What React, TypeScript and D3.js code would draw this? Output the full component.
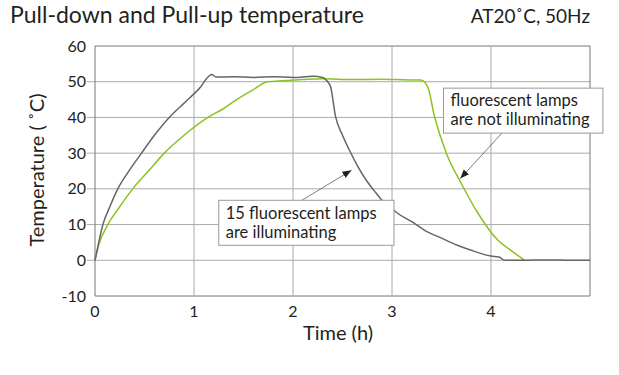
import React from "react";
import * as d3 from "d3";

// pull-down with 15 lamps on (gray)
const litTime = [0, 0.03, 0.08, 0.15, 0.23, 0.33, 0.47, 0.6, 0.75, 0.9, 1.05, 1.18, 1.22, 1.4, 1.6, 1.8, 2.0, 2.2, 2.3, 2.35, 2.38, 2.43, 2.5, 2.57, 2.65, 2.74, 2.82, 2.9, 3.0, 3.06, 3.2, 3.33, 3.5, 3.66, 3.8, 4.0, 4.08, 4.14, 4.3, 4.6, 4.8, 5.0];
const litTemp = [0, 4, 10, 15, 20, 24.5, 30, 35, 40, 44, 48, 52, 51.3, 51.4, 51.2, 51.4, 51.2, 51.5, 51.2, 50, 48.6, 40.2, 35, 30.8, 26.5, 22.4, 19.5, 16.8, 14.5, 13.1, 10.8, 8.4, 6.2, 4.2, 2.8, 1.2, 0.9, 0, 0, 0.1, 0, 0];

// lamps off (green)
const offTime = [0, 0.04, 0.13, 0.25, 0.38, 0.54, 0.7, 0.9, 1.14, 1.3, 1.42, 1.6, 1.74, 1.9, 2.1, 2.3, 2.6, 2.9, 3.2, 3.29, 3.36, 3.43, 3.55, 3.7, 3.87, 4.07, 4.2, 4.34];
const offTemp = [0, 4.5, 10, 15, 20, 25, 30, 35, 40, 42.5, 44.8, 47.8, 50, 50.3, 50.6, 50.8, 50.6, 50.7, 50.5, 50.5, 48.6, 40.2, 29.9, 21.5, 13.1, 5.6, 2.8, 0];

const yTicks = [-10, 0, 10, 20, 30, 40, 50, 60];
const xTicks = [0, 1, 2, 3, 4];

const font = "Lato, 'Open Sans', sans-serif";

export default function App() {
  const W = 619, H = 375;
  const x = d3.scaleLinear().domain([0, 5]).range([95, 590]);
  const y = d3.scaleLinear().domain([-10, 60]).range([296, 46]);

  const line = d3.line<[number, number]>()
    .x(d => x(d[0]))
    .y(d => y(d[1]))
    .curve(d3.curveMonotoneX);

  const lit = litTime.map((t, i) => [t, litTemp[i]] as [number, number]);
  const off = offTime.map((t, i) => [t, offTemp[i]] as [number, number]);

  return (
    <svg width={W} height={H} style={{ position: "absolute", left: 0, top: 0, background: "#fff" }} fontFamily={font}>
      <defs>
        <marker id="ah" viewBox="0 0 10 10" refX="10" refY="5" markerWidth="9" markerHeight="9" orient="auto" markerUnits="userSpaceOnUse">
          <path d="M0,1 L10,5 L0,9 z" fill="#231f20" />
        </marker>
      </defs>

      <text x={10} y={23} fontSize={23} fill="#231f20">Pull-down and Pull-up temperature</text>
      <text x={590} y={23} fontSize={19} fill="#231f20" textAnchor="end">AT20˚C, 50Hz</text>

      {/* grid */}
      {yTicks.map(v => (
        <line key={"gy" + v} x1={v > -10 && v < 60 ? x(0) - 8 : x(0)} x2={x(5)} y1={y(v)} y2={y(v)}
          stroke={v === 60 || v === -10 ? "#777" : "#aaa"} strokeWidth={1} />
      ))}
      {xTicks.slice(1).map(v => (
        <line key={"gx" + v} x1={x(v)} x2={x(v)} y1={y(60)} y2={y(-10)} stroke="#aaa" strokeWidth={1} />
      ))}
      <line x1={x(0)} x2={x(0)} y1={y(60)} y2={y(-10)} stroke="#777" />
      <line x1={x(5)} x2={x(5)} y1={y(60)} y2={y(-10)} stroke="#777" />

      {yTicks.map(v => (
        <text key={"ty" + v} x={86} y={y(v) + 5.5} fontSize={16} textAnchor="end" fill="#231f20">{v}</text>
      ))}
      {xTicks.map(v => (
        <text key={"tx" + v} x={x(v)} y={317} fontSize={16} textAnchor="middle" fill="#231f20">{v}</text>
      ))}

      <text x={338} y={340} fontSize={20} textAnchor="middle" fill="#231f20">Time (h)</text>
      <text transform={`translate(44,170) rotate(-90)`} fontSize={20} textAnchor="middle" fill="#231f20">Temperature ( ˚C)</text>

      <path d={line(off) || ""} fill="none" stroke="#8cc21f" strokeWidth={1.5} />
      <path d={line(lit) || ""} fill="none" stroke="#666" strokeWidth={1.5} />

      {/* annotations */}
      <line x1={x(2.09)} y1={y(16.8)} x2={x(2.59)} y2={y(25.2)} stroke="#444" strokeWidth={0.7} markerEnd="url(#ah)" />
      <rect x={x(1.25)} y={y(16.8)} width={x(3.02) - x(1.25)} height={y(4.2) - y(16.8)} fill="#fff" stroke="#999" />
      <text x={x(1.25) + 7} y={y(16.8) + 19} fontSize={16.5} fill="#231f20">15 fluorescent lamps</text>
      <text x={x(1.25) + 7} y={y(16.8) + 38} fontSize={16.5} fill="#231f20">are illuminating</text>

      <line x1={x(4.11)} y1={y(35.6)} x2={x(3.69)} y2={y(22.9)} stroke="#444" strokeWidth={0.7} markerEnd="url(#ah)" />
      <rect x={x(3.52)} y={y(48.2)} width={x(5.13) - x(3.52)} height={y(35.6) - y(48.2)} fill="#fff" stroke="#999" />
      <text x={x(3.52) + 7} y={y(48.2) + 18} fontSize={16.5} fill="#231f20">fluorescent lamps</text>
      <text x={x(3.52) + 7} y={y(48.2) + 37} fontSize={16.5} fill="#231f20">are not illuminating</text>
    </svg>
  );
}
